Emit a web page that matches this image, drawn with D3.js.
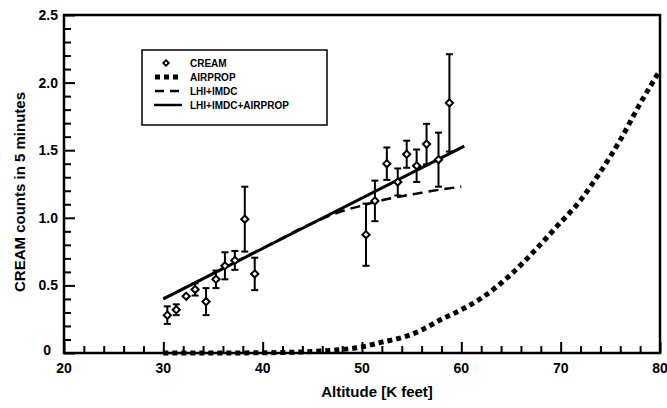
<!DOCTYPE html>
<html><head><meta charset="utf-8">
<script src="https://cdn.jsdelivr.net/npm/d3@7"></script>
<style>body{margin:0;background:#fff}svg text{font-family:"Liberation Sans",Arial,sans-serif;font-weight:bold;fill:#000}</style>
</head><body><svg id="c" width="667" height="408"></svg>
<script>
// CREAM measured points: altitude (K feet), counts, error
const creamAlt = [30.4, 31.3, 32.3, 33.2, 34.3, 35.3, 36.2, 37.2, 38.2, 39.2, 50.4, 51.3, 52.5, 53.6, 54.5, 55.5, 56.5, 57.7, 58.8];
const creamVal = [0.28, 0.32, 0.42, 0.47, 0.38, 0.545, 0.645, 0.685, 0.99, 0.585, 0.875, 1.125, 1.40, 1.265, 1.47, 1.385, 1.545, 1.43, 1.85];
const creamErr = [0.065, 0.04, 0, 0.045, 0.10, 0.065, 0.10, 0.07, 0.24, 0.12, 0.23, 0.15, 0.12, 0.10, 0.10, 0.12, 0.15, 0.20, 0.36];
// AIRPROP curve
const airAlt = [30, 35, 40, 44, 47, 50, 52, 54.5, 56, 58, 60, 62.2, 64.9, 67.3, 69.6, 72, 74, 76, 78, 80];
const airVal = [0, 0, 0.002, 0.008, 0.02, 0.045, 0.08, 0.125, 0.17, 0.25, 0.32, 0.415, 0.575, 0.75, 0.935, 1.13, 1.34, 1.575, 1.845, 2.09];
// LHI+IMDC curve
const lhiAlt = [30, 40, 45, 48, 50, 52, 54, 56, 58, 60];
const lhiVal = [0.40, 0.775, 0.96, 1.05, 1.09, 1.13, 1.16, 1.185, 1.21, 1.23];
// LHI+IMDC+AIRPROP line
const sumAlt = [30, 60.3];
const sumVal = [0.40, 1.53];
// axis ticks
const xTicks = [20, 30, 40, 50, 60, 70, 80];
const yTicks = [0, 0.5, 1.0, 1.5, 2.0, 2.5];
const yTickLabels = ["0", "0.5", "1.0", "1.5", "2.0", "2.5"];
const legendLabels = ["CREAM", "AIRPROP", "LHI+IMDC", "LHI+IMDC+AIRPROP"];

const svg = d3.select("#c");
const L = 64, R = 660, T = 15, B = 353;
const x = d3.scaleLinear().domain([20, 80]).range([L, R]);
const y = d3.scaleLinear().domain([0, 2.5]).range([B, T]);

// frame
svg.append("rect").attr("x", L).attr("y", T).attr("width", R - L).attr("height", B - T)
  .attr("fill", "none").attr("stroke", "#000").attr("stroke-width", 2.5);

// ticks (inward) via d3 axes
const xAx = d3.axisTop(x).tickValues(d3.range(0, 31).map(i => 20 + 2 * i)).tickSize(6).tickFormat("");
const gx = svg.append("g").attr("transform", `translate(0,${B})`).call(xAx);
gx.select(".domain").remove();
gx.selectAll(".tick line").attr("stroke", "#000").attr("stroke-width", 2)
  .attr("y2", (d, i) => (i % 5 === 0 ? -11 : -7));
const yAx = d3.axisRight(y).tickValues(d3.range(0, 26).map(i => i / 10)).tickSize(6).tickFormat("");
const gy = svg.append("g").attr("transform", `translate(${L},0)`).call(yAx);
gy.select(".domain").remove();
gy.selectAll(".tick line").attr("stroke", "#000").attr("stroke-width", 2)
  .attr("x2", (d, i) => (i % 5 === 0 ? 11 : 7));

// tick labels
svg.append("g").selectAll("text").data(xTicks).join("text")
  .attr("x", d => x(d)).attr("y", B + 20).attr("text-anchor", "middle")
  .attr("font-size", 14).text(d => d);
svg.append("g").selectAll("text").data(yTicks).join("text")
  .attr("x", (d, i) => i === 0 ? L - 13 : L - 6).attr("y", (d, i) => y(d) + (i === 0 ? 2 : 5))
  .attr("text-anchor", "end").attr("font-size", 14).text((d, i) => yTickLabels[i]);

// axis titles
svg.append("text").attr("x", (L + R) / 2 + 15).attr("y", 397).attr("text-anchor", "middle")
  .attr("font-size", 15).text("Altitude [K feet]");
svg.append("text").attr("transform", `translate(25,${(T + B) / 2 + 8}) rotate(-90)`)
  .attr("text-anchor", "middle").attr("font-size", 15).text("CREAM counts in 5 minutes");

const line = d3.line().x(d => x(d[0])).y(d => y(d[1]));

// AIRPROP dotted
svg.append("path").datum(airAlt.map((a, i) => [a, airVal[i]]))
  .attr("d", line.curve(d3.curveMonotoneX)).attr("fill", "none").attr("stroke", "#000")
  .attr("stroke-width", 5).attr("stroke-dasharray", "5,4");
// LHI+IMDC dashed
svg.append("path").datum(lhiAlt.map((a, i) => [a, lhiVal[i]]))
  .attr("d", line.curve(d3.curveMonotoneX)).attr("fill", "none").attr("stroke", "#000")
  .attr("stroke-width", 2.5).attr("stroke-dasharray", "10,6");
// sum solid
svg.append("path").datum(sumAlt.map((a, i) => [a, sumVal[i]]))
  .attr("d", line.curve(d3.curveLinear)).attr("fill", "none").attr("stroke", "#000")
  .attr("stroke-width", 3);

// error bars
const pts = creamAlt.map((a, i) => ({a, v: creamVal[i], e: creamErr[i]}));
const eb = svg.append("g").attr("stroke", "#000").attr("stroke-width", 2);
pts.filter(p => p.e > 0).forEach(p => {
  eb.append("line").attr("x1", x(p.a)).attr("x2", x(p.a)).attr("y1", y(p.v - p.e)).attr("y2", y(p.v + p.e));
  [p.v - p.e, p.v + p.e].forEach(v => eb.append("line").attr("x1", x(p.a) - 3.5).attr("x2", x(p.a) + 3.5).attr("y1", y(v)).attr("y2", y(v)));
});
// diamonds
const diamond = (cx, cy, s) => `M${cx},${cy - s}L${cx + s},${cy}L${cx},${cy + s}L${cx - s},${cy}Z`;
svg.append("g").selectAll("path").data(pts).join("path")
  .attr("d", p => diamond(x(p.a), y(p.v), 3.6)).attr("fill", "#fff").attr("stroke", "#000").attr("stroke-width", 2);

// legend
const lg = svg.append("g");
lg.append("rect").attr("x", 142).attr("y", 50).attr("width", 185).attr("height", 75)
  .attr("fill", "#fff").attr("stroke", "#000").attr("stroke-width", 1.5);
const ly = [63, 77, 91, 105];
legendLabels.forEach((t, i) => {
  lg.append("text").attr("x", 190).attr("y", ly[i] + 4).attr("font-size", 10).text(t);
});
lg.append("path").attr("d", diamond(166, ly[0], 2.8)).attr("fill", "#fff").attr("stroke", "#000").attr("stroke-width", 1.8);
lg.append("line").attr("x1", 155).attr("x2", 181).attr("y1", ly[1]).attr("y2", ly[1])
  .attr("stroke", "#000").attr("stroke-width", 5).attr("stroke-dasharray", "5,4");
lg.append("line").attr("x1", 155).attr("x2", 181).attr("y1", ly[2]).attr("y2", ly[2])
  .attr("stroke", "#000").attr("stroke-width", 2.5).attr("stroke-dasharray", "9,6");
lg.append("line").attr("x1", 154).attr("x2", 182).attr("y1", ly[3]).attr("y2", ly[3])
  .attr("stroke", "#000").attr("stroke-width", 2.5);
</script></body></html>
